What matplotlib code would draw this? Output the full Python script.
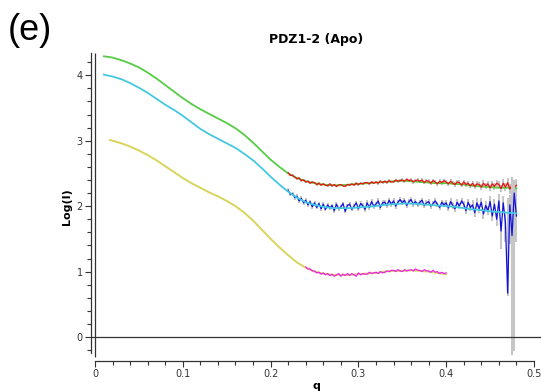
import matplotlib
matplotlib.use("Agg")
import matplotlib.pyplot as plt
from matplotlib.ticker import MultipleLocator

# fitted curves (q, log I)
fit_q = [0.01, 0.02, 0.03, 0.04, 0.05, 0.06, 0.07, 0.08, 0.09, 0.10, 0.11, 0.12,
         0.13, 0.14, 0.15, 0.16, 0.17, 0.18, 0.19, 0.20, 0.21, 0.22, 0.23, 0.24,
         0.25, 0.26, 0.27, 0.28, 0.29, 0.30, 0.31, 0.32, 0.33, 0.34, 0.35, 0.36,
         0.37, 0.38, 0.39, 0.40, 0.41, 0.42, 0.43, 0.44, 0.45, 0.46, 0.47, 0.48]
green_fit = [4.29, 4.27, 4.23, 4.18, 4.12, 4.04, 3.95, 3.85, 3.75, 3.65, 3.56, 3.48,
             3.41, 3.34, 3.27, 3.19, 3.09, 2.97, 2.84, 2.71, 2.60, 2.50, 2.43, 2.38,
             2.35, 2.33, 2.32, 2.32, 2.33, 2.34, 2.35, 2.36, 2.37, 2.38, 2.39, 2.38,
             2.37, 2.36, 2.35, 2.35, 2.34, 2.33, 2.31, 2.30, 2.29, 2.28, 2.28, 2.27]
cyan_fit = [4.01, 3.98, 3.94, 3.88, 3.81, 3.73, 3.64, 3.55, 3.47, 3.38, 3.28, 3.18,
            3.10, 3.03, 2.96, 2.89, 2.80, 2.70, 2.58, 2.45, 2.33, 2.22, 2.13, 2.06,
            2.02, 1.99, 1.97, 1.97, 1.97, 1.98, 1.99, 2.00, 2.02, 2.03, 2.04, 2.04,
            2.03, 2.02, 2.01, 2.00, 1.99, 1.97, 1.95, 1.94, 1.92, 1.91, 1.90, 1.89]

yellow_q = [0.017, 0.02, 0.03, 0.04, 0.05, 0.06, 0.07, 0.08, 0.09, 0.10, 0.11, 0.12,
            0.13, 0.14, 0.15, 0.16, 0.17, 0.18, 0.19, 0.20, 0.21, 0.22, 0.23, 0.24,
            0.25, 0.26, 0.27, 0.28, 0.29, 0.30, 0.31, 0.32, 0.33, 0.34, 0.35, 0.36,
            0.37, 0.38, 0.39, 0.40]
yellow_fit = [3.01, 3.00, 2.96, 2.91, 2.85, 2.78, 2.70, 2.61, 2.52, 2.43, 2.35, 2.28,
              2.21, 2.15, 2.08, 2.00, 1.90, 1.78, 1.64, 1.50, 1.37, 1.25, 1.14, 1.06,
              1.00, 0.97, 0.95, 0.95, 0.95, 0.96, 0.97, 0.98, 1.00, 1.01, 1.01, 1.02,
              1.01, 1.00, 0.98, 0.96]

# measured data at high q
q_hi = [0.2200, 0.2225, 0.2250, 0.2275, 0.2300, 0.2325, 0.2350, 0.2375,
        0.2400, 0.2425, 0.2450, 0.2475, 0.2500, 0.2525, 0.2550, 0.2575,
        0.2600, 0.2625, 0.2650, 0.2675, 0.2700, 0.2725, 0.2750, 0.2775,
        0.2800, 0.2825, 0.2850, 0.2875, 0.2900, 0.2925, 0.2950, 0.2975,
        0.3000, 0.3025, 0.3050, 0.3075, 0.3100, 0.3125, 0.3150, 0.3175,
        0.3200, 0.3225, 0.3250, 0.3275, 0.3300, 0.3325, 0.3350, 0.3375,
        0.3400, 0.3425, 0.3450, 0.3475, 0.3500, 0.3525, 0.3550, 0.3575,
        0.3600, 0.3625, 0.3650, 0.3675, 0.3700, 0.3725, 0.3750, 0.3775,
        0.3800, 0.3825, 0.3850, 0.3875, 0.3900, 0.3925, 0.3950, 0.3975,
        0.4000, 0.4025, 0.4050, 0.4075, 0.4100, 0.4125, 0.4150, 0.4175,
        0.4200, 0.4225, 0.4250, 0.4275, 0.4300, 0.4325, 0.4350, 0.4375,
        0.4400, 0.4425, 0.4450, 0.4475, 0.4500, 0.4525, 0.4550, 0.4575,
        0.4600, 0.4625, 0.4650, 0.4675, 0.4700, 0.4725, 0.4750, 0.4775,
        0.4800]
red_data = [2.51, 2.47, 2.47, 2.44, 2.42, 2.43, 2.39, 2.40,
            2.37, 2.38, 2.35, 2.37, 2.36, 2.33, 2.35, 2.32,
            2.34, 2.32, 2.31, 2.34, 2.31, 2.33, 2.30, 2.32,
            2.33, 2.31, 2.30, 2.33, 2.32, 2.34, 2.32, 2.35,
            2.33, 2.35, 2.34, 2.36, 2.36, 2.34, 2.37, 2.35,
            2.37, 2.35, 2.38, 2.36, 2.38, 2.36, 2.39, 2.37,
            2.37, 2.40, 2.38, 2.39, 2.40, 2.38, 2.41, 2.39,
            2.40, 2.37, 2.39, 2.40, 2.38, 2.40, 2.36, 2.39,
            2.38, 2.35, 2.39, 2.37, 2.34, 2.38, 2.36, 2.39,
            2.37, 2.34, 2.38, 2.35, 2.33, 2.37, 2.36, 2.32,
            2.37, 2.33, 2.35, 2.31, 2.35, 2.30, 2.34, 2.33,
            2.29, 2.35, 2.31, 2.34, 2.28, 2.34, 2.30, 2.35,
            2.33, 2.27, 2.35, 2.29, 2.36, 2.26, 2.33, 2.28,
            2.32]
red_err = [0.015, 0.015, 0.015, 0.015, 0.015, 0.015, 0.015, 0.015,
           0.015, 0.015, 0.015, 0.015, 0.015, 0.015, 0.015, 0.015,
           0.015, 0.015, 0.015, 0.015, 0.015, 0.015, 0.015, 0.015,
           0.015, 0.015, 0.015, 0.015, 0.015, 0.015, 0.015, 0.015,
           0.015, 0.015, 0.015, 0.015, 0.015, 0.015, 0.015, 0.015,
           0.020, 0.020, 0.020, 0.020, 0.020, 0.020, 0.020, 0.020,
           0.020, 0.020, 0.020, 0.020, 0.025, 0.025, 0.025, 0.025,
           0.025, 0.025, 0.025, 0.025, 0.025, 0.025, 0.025, 0.025,
           0.030, 0.030, 0.030, 0.030, 0.030, 0.030, 0.030, 0.030,
           0.030, 0.030, 0.030, 0.030, 0.035, 0.035, 0.035, 0.035,
           0.035, 0.035, 0.035, 0.035, 0.040, 0.040, 0.040, 0.040,
           0.045, 0.045, 0.045, 0.045, 0.050, 0.050, 0.050, 0.050,
           0.055, 0.055, 0.060, 0.060, 0.070, 0.080, 0.120, 0.100,
           0.090]
blue_data = [2.24, 2.18, 2.19, 2.13, 2.15, 2.08, 2.12, 2.05,
             2.09, 2.02, 2.07, 1.99, 2.05, 1.98, 2.04, 1.96,
             2.03, 1.95, 2.02, 1.97, 2.01, 1.93, 2.03, 1.96,
             1.99, 2.04, 1.92, 2.01, 2.03, 1.95, 2.00, 2.05,
             1.96, 2.04, 2.01, 1.95, 2.05, 1.98, 2.07, 2.00,
             2.03, 2.08, 1.98, 2.05, 2.06, 2.01, 2.09, 2.03,
             2.08, 2.00, 2.06, 2.10, 2.05, 2.09, 2.01, 2.07,
             2.10, 2.03, 2.07, 2.02, 2.06, 2.09, 2.01, 2.05,
             2.07, 2.00, 2.04, 2.08, 2.03, 1.98, 2.06, 2.02,
             2.05, 1.97, 2.07, 2.01, 1.96, 2.06, 2.00, 2.08,
             2.03, 1.93, 2.06, 1.98, 2.02, 1.90, 2.05, 1.96,
             2.06, 1.88, 2.01, 1.93, 2.07, 1.85, 2.03, 1.80,
             2.08, 1.62, 2.05, 1.75, 0.67, 2.02, 1.55, 2.20,
             1.85]
blue_err_lo = [0.03, 0.03, 0.03, 0.03, 0.03, 0.03, 0.03, 0.03,
               0.03, 0.03, 0.03, 0.03, 0.03, 0.03, 0.03, 0.03,
               0.03, 0.03, 0.03, 0.03, 0.03, 0.03, 0.03, 0.03,
               0.03, 0.03, 0.03, 0.03, 0.03, 0.03, 0.03, 0.03,
               0.04, 0.04, 0.04, 0.04, 0.04, 0.04, 0.04, 0.04,
               0.04, 0.04, 0.04, 0.04, 0.04, 0.04, 0.04, 0.04,
               0.04, 0.04, 0.04, 0.04, 0.04, 0.04, 0.04, 0.04,
               0.04, 0.04, 0.04, 0.04, 0.04, 0.04, 0.04, 0.04,
               0.04, 0.04, 0.04, 0.04, 0.04, 0.04, 0.04, 0.04,
               0.05, 0.05, 0.05, 0.05, 0.05, 0.05, 0.05, 0.05,
               0.05, 0.05, 0.05, 0.05, 0.07, 0.07, 0.07, 0.07,
               0.07, 0.07, 0.07, 0.07, 0.08, 0.08, 0.08, 0.10,
               0.10, 0.27, 0.10, 0.30, 0.05, 0.60, 1.82, 2.42,
               0.40]
blue_err_hi = [0.03, 0.03, 0.03, 0.03, 0.03, 0.03, 0.03, 0.03,
               0.03, 0.03, 0.03, 0.03, 0.03, 0.03, 0.03, 0.03,
               0.03, 0.03, 0.03, 0.03, 0.03, 0.03, 0.03, 0.03,
               0.03, 0.03, 0.03, 0.03, 0.03, 0.03, 0.03, 0.03,
               0.04, 0.04, 0.04, 0.04, 0.04, 0.04, 0.04, 0.04,
               0.04, 0.04, 0.04, 0.04, 0.04, 0.04, 0.04, 0.04,
               0.04, 0.04, 0.04, 0.04, 0.04, 0.04, 0.04, 0.04,
               0.04, 0.04, 0.04, 0.04, 0.04, 0.04, 0.04, 0.04,
               0.04, 0.04, 0.04, 0.04, 0.04, 0.04, 0.04, 0.04,
               0.05, 0.05, 0.05, 0.05, 0.05, 0.05, 0.05, 0.05,
               0.05, 0.05, 0.05, 0.05, 0.07, 0.07, 0.07, 0.07,
               0.07, 0.07, 0.07, 0.07, 0.08, 0.08, 0.08, 0.10,
               0.10, 0.12, 0.10, 0.15, 1.45, 0.15, 0.90, 0.20,
               0.40]

# magenta data covers q = 0.24 .. 0.40 of the same grid
mag_start, mag_stop = 8, 73
magenta_data = [1.07, 1.04, 1.04, 1.01, 1.01, 0.98, 0.99, 0.96,
                0.98, 0.95, 0.97, 0.94, 0.96, 0.93, 0.95, 0.97,
                0.93, 0.96, 0.94, 0.97, 0.94, 0.97, 0.95, 0.93,
                0.98, 0.95, 0.97, 0.96, 0.96, 0.99, 0.97, 0.98,
                0.99, 0.97, 1.00, 0.98, 0.99, 1.01, 1.00, 1.02,
                1.02, 1.00, 1.03, 1.01, 1.00, 1.03, 1.01, 1.02,
                1.03, 1.01, 1.04, 1.02, 1.02, 1.00, 1.03, 1.01,
                1.01, 0.99, 1.02, 0.99, 1.00, 0.97, 0.99, 0.97,
                0.98]

fig = plt.figure(figsize=(5.41, 3.92), dpi=100)
ax = fig.add_axes([91 / 541, 31 / 392, 450 / 541, 308 / 392])

grey = '#c6c6c6'

# red / green set (data drawn over the fit)
ax.errorbar(q_hi, red_data, yerr=red_err, fmt='none', ecolor=grey, elinewidth=1.5)
ax.plot(fit_q, green_fit, color='#55cc44', lw=1.3)
ax.plot(q_hi, red_data, color='#ee1111', lw=0.9)

# blue / cyan set
ax.errorbar(q_hi, blue_data, yerr=[blue_err_lo, blue_err_hi], fmt='none',
            ecolor=grey, elinewidth=1.5)
ax.plot(q_hi, blue_data, color='#1111dd', lw=0.9)
ax.plot(fit_q, cyan_fit, color='#44c8e0', lw=1.3)

# magenta / yellow set
ax.plot(yellow_q, yellow_fit, color='#d8d45c', lw=1.4)
ax.plot(q_hi[mag_start:mag_stop], magenta_data, color='#ee22ee', lw=0.9)

ax.axhline(0, color='#333333', lw=0.9)
ax.vlines(0, -0.30, 4.34, color='#333333', lw=0.9)

ax.set_xlim(-0.0046, 0.508)
ax.set_ylim(-0.366, 4.34)

for side in ['top', 'right']:
    ax.spines[side].set_visible(False)
ax.spines['bottom'].set_bounds(0, 0.5)
ax.spines['left'].set_bounds(-0.25, 4.34)
for side in ['bottom', 'left']:
    ax.spines[side].set_color('#333333')
    ax.spines[side].set_linewidth(0.9)

ax.xaxis.set_minor_locator(MultipleLocator(0.02))
ax.yaxis.set_major_locator(MultipleLocator(1))
ax.yaxis.set_minor_locator(MultipleLocator(0.2))
ax.set_xticks([0, 0.1, 0.2, 0.3, 0.4, 0.5])
ax.set_xticklabels(['0', '0.1', '0.2', '0.3', '0.4', '0.5'])
ax.tick_params(which='major', length=4, width=0.8, color='#333333', labelsize=7,
               labelcolor='#333333', pad=2)
ax.tick_params(which='minor', length=3, width=0.8, color='#333333')

ax.set_title('PDZ1-2 (Apo)', fontsize=9, fontweight='bold', pad=7)
ax.set_xlabel('q', fontsize=8, fontweight='bold', labelpad=1)
ax.set_ylabel('Log(I)', fontsize=8, fontweight='bold', labelpad=3)

fig.text(8 / 541, 1 - 30 / 392, '(e)', fontsize=26, family='Liberation Sans',
         va='center', ha='left')

fig.savefig('out.png', dpi=100)
